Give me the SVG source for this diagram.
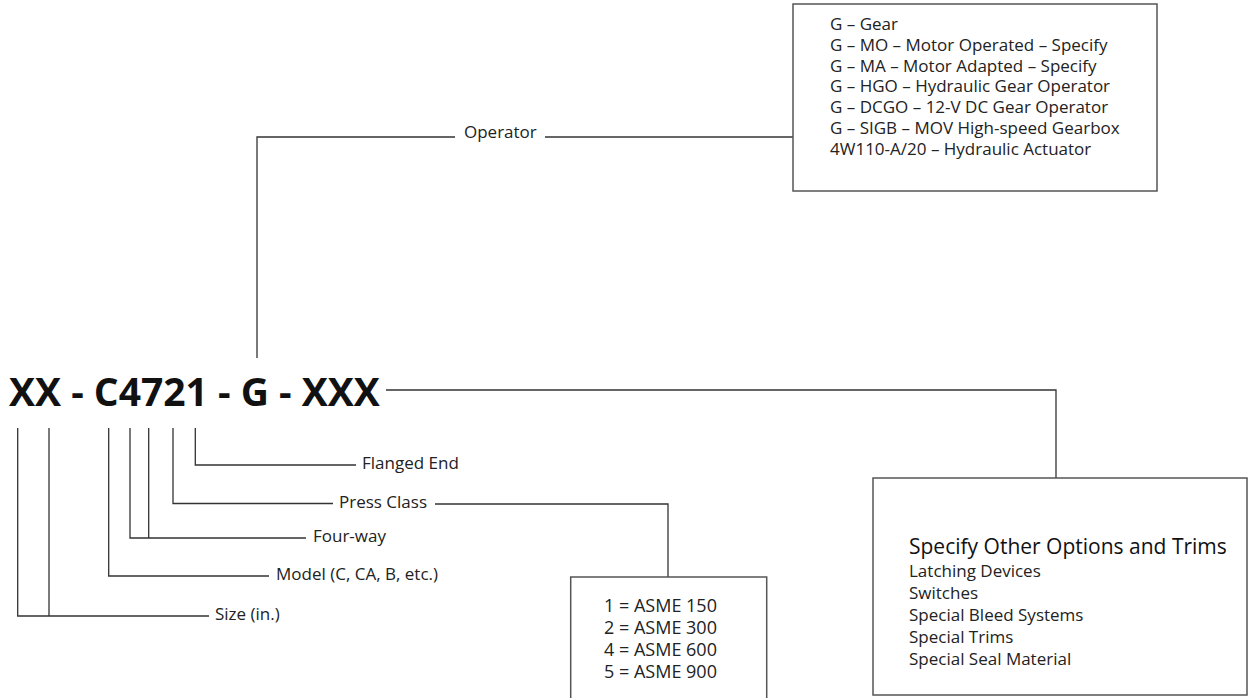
<svg xmlns="http://www.w3.org/2000/svg" width="1257" height="698" viewBox="0 0 1257 698">
<style>
.ln{fill:none;stroke:#333;stroke-width:1.3}
.bx{fill:#fff;stroke:#555;stroke-width:1.5}
.t{font-family:"Open Sans","Noto Sans",sans-serif;font-size:17px;fill:#222}
.pb{font-family:"Open Sans","Noto Sans",sans-serif;font-size:18px;fill:#222}
.h{font-family:"Open Sans","Noto Sans",sans-serif;font-size:21px;fill:#111}
.title{font-family:"Open Sans","Noto Sans",sans-serif;font-size:39px;font-weight:bold;fill:#111}
</style>
<rect width="1257" height="698" fill="#fff"/>
<g id="connectors">
<path class="ln" d="M386,390 H1056 V478"/>
<path class="ln" d="M257,358 V137 H455"/>
<path class="ln" d="M545,137 H793"/>
<path class="ln" d="M195.3,428 V465 H356"/>
<path class="ln" d="M173,428 V503.5 H333"/>
<path class="ln" d="M435,504 H668 V577"/>
<path class="ln" d="M130,428 V538 H306"/>
<path class="ln" d="M148.7,428 V538"/>
<path class="ln" d="M108.7,428 V576 H269"/>
<path class="ln" d="M17.7,428 V616 H209"/>
<path class="ln" d="M49,428 V616"/>
</g>
<g id="title">
<text class="title" x="9" y="406">XX - C4721 - G - XXX</text>
</g>
<g id="operator">
<text class="t" x="464" y="138">Operator</text>
</g>
<g id="operator-box">
<rect class="bx" x="793" y="4" width="364" height="187"/>
<text class="t" x="830" y="30">G – Gear</text>
<text class="t" x="830" y="50.8">G – MO – Motor Operated – Specify</text>
<text class="t" x="830" y="71.6">G – MA – Motor Adapted – Specify</text>
<text class="t" x="830" y="92.4">G – HGO – Hydraulic Gear Operator</text>
<text class="t" x="830" y="113.2">G – DCGO – 12-V DC Gear Operator</text>
<text class="t" x="830" y="134">G – SIGB – MOV High-speed Gearbox</text>
<text class="t" x="830" y="154.8">4W110-A/20 – Hydraulic Actuator</text>
</g>
<g id="flanged-end"><text class="t" x="362" y="469">Flanged End</text></g>
<g id="press-class"><text class="t" x="339" y="508">Press Class</text></g>
<g id="four-way"><text class="t" x="313" y="542">Four-way</text></g>
<g id="model"><text class="t" x="276" y="580">Model (C, CA, B, etc.)</text></g>
<g id="size"><text class="t" x="215" y="620">Size (in.)</text></g>
<g id="press-box">
<rect class="bx" x="570.7" y="577" width="196" height="130"/>
<text class="pb" x="604" y="611.7">1 = ASME 150</text>
<text class="pb" x="604" y="634">2 = ASME 300</text>
<text class="pb" x="604" y="656">4 = ASME 600</text>
<text class="pb" x="604" y="677.7">5 = ASME 900</text>
</g>
<g id="options-box">
<rect class="bx" x="873" y="478" width="374" height="217"/>
<text class="h" x="909" y="554">Specify Other Options and Trims</text>
<text class="t" x="909" y="577">Latching Devices</text>
<text class="t" x="909" y="599">Switches</text>
<text class="t" x="909" y="621">Special Bleed Systems</text>
<text class="t" x="909" y="643">Special Trims</text>
<text class="t" x="909" y="665">Special Seal Material</text>
</g>
</svg>
